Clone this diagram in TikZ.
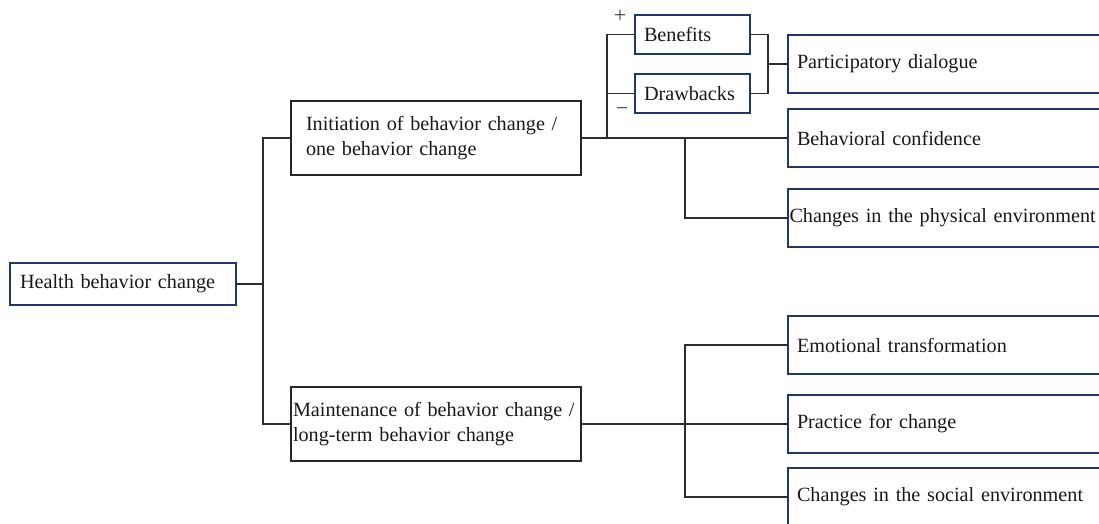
\documentclass[tikz,border=0pt]{standalone}
\usepackage{fontspec}
\setmainfont{Liberation Serif}[WordSpace=0.9]
\definecolor{navy}{RGB}{35,55,100}
\definecolor{linec}{RGB}{45,45,45}
\begin{document}
\begin{tikzpicture}[x=1pt,y=-1pt,
  box/.style={draw=navy, line width=1.8pt, rectangle, anchor=north west, align=left,
    inner ysep=0pt, outer sep=0pt, font=\fontsize{20.2}{25}\selectfont, text=black!90},
  bbox/.style={box, draw=black!85},
  sign/.style={font=\fontsize{22}{22}\selectfont, text=black!75, inner sep=0pt},
  conn/.style={draw=linec, line width=1.4pt}]
\useasboundingbox (0,0) rectangle (1099,523);
\clip (0,0) rectangle (1099,523);
% nodes
\node[box, minimum width=226, minimum height=42, text width=206, inner xsep=10] (health) at (10,263) {\mbox{Health behavior change}};
\node[bbox, minimum width=290, minimum height=74, text width=260, inner xsep=15] (init) at (291,101) {\mbox{Initiation of behavior change /}\\\mbox{one behavior change}};
\node[bbox, minimum width=290, minimum height=74, text width=286, inner xsep=2] (maint) at (291,387) {\mbox{Maintenance of behavior change /}\\\mbox{long-term behavior change}};
\node[box, minimum width=115, minimum height=39, text width=97, inner xsep=9] (ben) at (635,15) {\mbox{Benefits}};
\node[box, minimum width=115, minimum height=39, text width=97, inner xsep=9] (drw) at (635,74) {\mbox{Drawbacks}};
\node[box, minimum width=312, minimum height=58, text width=294, inner xsep=9] (part) at (788,35) {\mbox{Participatory dialogue}};
\node[box, minimum width=312, minimum height=58, text width=294, inner xsep=9] (conf) at (788,109) {\mbox{Behavioral confidence}};
\node[box, minimum width=312, minimum height=58, text width=309, inner xsep=1.5] (phys) at (788,189) {\mbox{Changes in the physical environment}};
\node[box, minimum width=312, minimum height=58, text width=294, inner xsep=9] (emo) at (788,316) {\mbox{Emotional transformation}};
\node[box, minimum width=312, minimum height=58, text width=294, inner xsep=9] (prac) at (788,395) {\mbox{Practice for change}};
\node[box, minimum width=312, minimum height=58, text width=294, inner xsep=9] (soc) at (788,468) {\mbox{Changes in the social environment}};
\node[sign] (plus) at (620,16) {+};
\node[sign] (minus) at (622,112) {−};
% junctions
\coordinate (j1) at (263,284);
\coordinate (jb) at (607,138);
\coordinate (jp) at (768,64);
\coordinate (jf) at (685,138);
\coordinate (jm) at (685,424);
% connectors
\draw[conn] (health.east) -- (j1);
\draw[conn] (init.west) -| (j1);
\draw[conn] (maint.west) -| (j1);
\draw[conn] (init.east) -- (conf.west);
\draw[conn] (ben.west) -| (jb);
\draw[conn] (drw.west) -| (jb);
\draw[conn] (ben.east) -| (jp);
\draw[conn] (drw.east) -| (jp);
\draw[conn] (jp) -- (part.west);
\draw[conn] (phys.west) -| (jf);
\draw[conn] (maint.east) -- (prac.west);
\draw[conn] (emo.west) -| (jm);
\draw[conn] (soc.west) -| (jm);
\end{tikzpicture}
\end{document}
